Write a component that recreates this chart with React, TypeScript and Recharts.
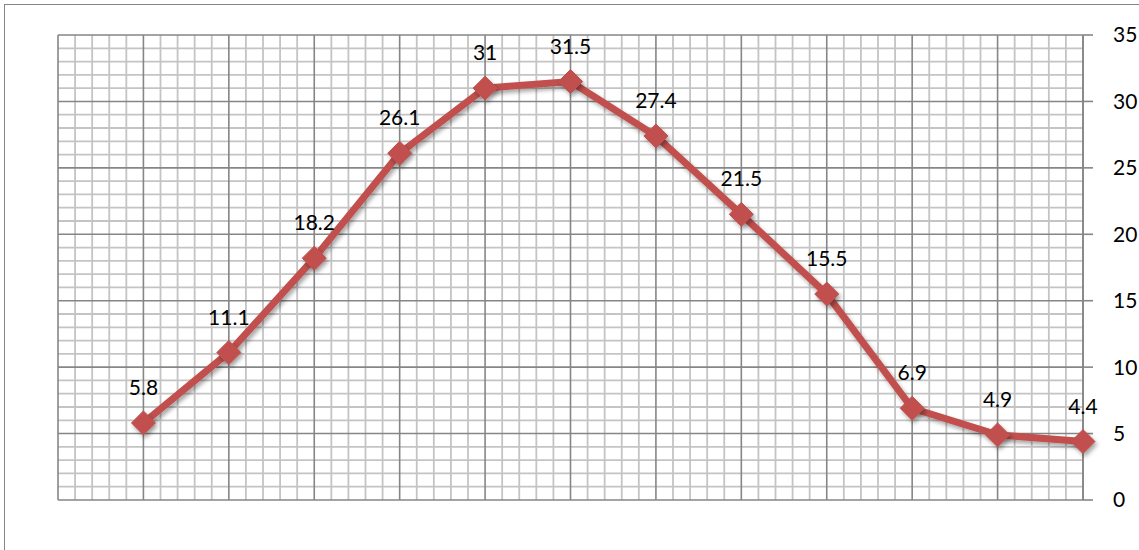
import React from "react";
import { LineChart, Line, XAxis, YAxis, ReferenceLine, LabelList } from "recharts";

const positions = [1, 2, 3, 4, 5, 6, 7, 8, 9, 10, 11, 12];
const values = [5.8, 11.1, 18.2, 26.1, 31, 31.5, 27.4, 21.5, 15.5, 6.9, 4.9, 4.4];
const yTicks = [0, 5, 10, 15, 20, 25, 30, 35];

const data = positions.map((x, i) => ({ x, v: values[i] }));

const minorY: number[] = [];
for (let i = 0; i <= 35; i++) if (i % 5 !== 0) minorY.push(i);
const minorX: number[] = [];
for (let i = 0; i <= 60; i++) if (i % 5 !== 0) minorX.push(i / 5);
const majorX: number[] = [];
for (let i = 0; i <= 12; i++) majorX.push(i);

const RED = "#c0504d";

const Diamond = (props: any) => {
  const { cx, cy } = props;
  if (cx == null || cy == null) return null;
  const r = 12;
  return (
    <path
      d={`M${cx},${cy - r} L${cx + r},${cy} L${cx},${cy + r} L${cx - r},${cy} Z`}
      fill={RED}
      stroke={RED}
      strokeWidth={1}
      filter="url(#shadow)"
    />
  );
};

export default function App() {
  return (
    <div style={{ position: "absolute", left: 0, top: 0, width: 1139, height: 550, background: "#fff", overflow: "hidden" }}>
      <div
        style={{
          position: "absolute",
          left: 4,
          top: 4,
          width: 1300,
          height: 700,
          borderLeft: "1.5px solid #868686",
          borderTop: "1.5px solid #868686",
        }}
      />
      <div style={{ position: "absolute", left: 0, top: 0 }}>
        <LineChart
          width={1139}
          height={550}
          data={data}
          margin={{ top: 35, right: 0, left: 58, bottom: 50 }}
          style={{ fontFamily: "Lato, 'Open Sans', sans-serif" }}
        >
          <defs>
            <filter id="shadow" x="-50%" y="-50%" width="200%" height="200%">
              <feDropShadow dx="2" dy="3" stdDeviation="2" floodColor="#000" floodOpacity="0.35" />
            </filter>
          </defs>
          <XAxis dataKey="x" type="number" domain={[0, 12]} hide height={0} />
          <YAxis
            orientation="right"
            domain={[0, 35]}
            ticks={yTicks}
            width={56}
            tickSize={10}
            tickMargin={20}
            axisLine={{ stroke: "#868686", strokeWidth: 1.6 }}
            tickLine={{ stroke: "#868686", strokeWidth: 1.6 }}
            tick={{ fill: "#000", fontSize: 21, textAnchor: "start" }}
          />
          {minorY.map((v) => (
            <ReferenceLine key={"my" + v} y={v} stroke="#c4c4c4" strokeWidth={1.8} />
          ))}
          {minorX.map((v) => (
            <ReferenceLine key={"mx" + v} x={v} stroke="#c4c4c4" strokeWidth={1.8} />
          ))}
          {yTicks.map((v) => (
            <ReferenceLine key={"My" + v} y={v} stroke="#868686" strokeWidth={1.6} />
          ))}
          {majorX.map((v) => (
            <ReferenceLine key={"Mx" + v} x={v} stroke="#868686" strokeWidth={1.6} />
          ))}
          <Line
            dataKey="v"
            stroke={RED}
            strokeWidth={7}
            dot={<Diamond />}
            activeDot={false}
            isAnimationActive={false}
            filter="url(#shadow)"
          >
            <LabelList dataKey="v" position="top" offset={28} fill="#000" fontSize={21} />
          </Line>
        </LineChart>
      </div>
    </div>
  );
}
